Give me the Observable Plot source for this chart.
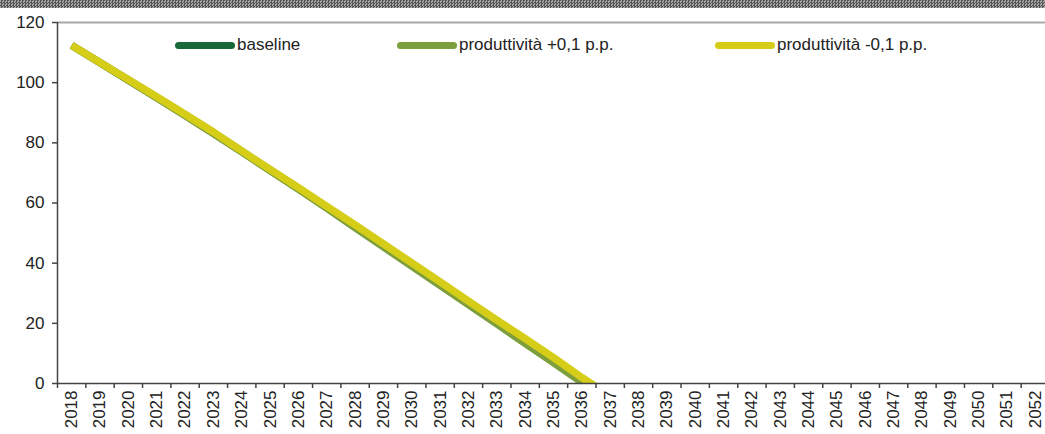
<!DOCTYPE html>
<html>
<head>
<meta charset="utf-8">
<script src="https://cdn.jsdelivr.net/npm/d3@7"></script>
<script src="https://cdn.jsdelivr.net/npm/@observablehq/plot@0.6"></script>
<style>
  html, body { margin: 0; padding: 0; background: #fff; overflow: hidden; }
  #wrap { position: relative; width: 1045px; height: 434px; font-family: "Liberation Sans", Arial, sans-serif; }
  #hatch { position: absolute; left: 0; top: 0; width: 1045px; height: 8px;
    background: repeating-conic-gradient(#555 0 25%, #a6a6a6 0 50%) 0 0 / 3px 3px; z-index: 2; }
  #legend { position: absolute; left: 0; top: 35px; width: 1045px; height: 22px; z-index: 3; }
  .item { position: absolute; top: 0; display: flex; align-items: center; font-size: 17px; color: #222; white-space: nowrap; }
  .sw { width: 60px; height: 7px; border-radius: 4px; margin-right: 2px; }
  svg { display: block; }
</style>
</head>
<body>
<div id="wrap">
  <div id="hatch"></div>
  <div id="legend"></div>
</div>
<script>
// ---- data ----
const years = [2018,2019,2020,2021,2022,2023,2024,2025,2026,2027,2028,2029,2030,2031,2032,2033,2034,2035,2036,2037,2038,2039,2040,2041,2042,2043,2044,2045,2046,2047,2048,2049,2050,2051,2052];
const lineYears = [2018,2019,2020,2021,2022,2023,2024,2025,2026,2027,2028,2029,2030,2031,2032,2033,2034,2035,2036,2037];
const baseline = [112.4,106.65,100.9,95.1,89.3,83.35,77.15,71.0,64.85,58.6,52.25,45.9,39.55,33.2,26.8,20.45,14.1,7.75,1.2,-5.1];
const prodPlus = [112.4,106.6,100.8,95.0,89.1,83.1,77.0,70.8,64.6,58.3,51.8,45.4,39.0,32.6,26.2,19.8,13.3,6.9,0.4,-6.0];
const prodMinus = [112.4,106.7,101.0,95.3,89.5,83.6,77.3,71.2,65.1,58.9,52.7,46.4,40.1,33.8,27.4,21.1,14.9,8.6,2.0,-4.2];
const seriesNames = ["baseline", "produttività +0,1 p.p.", "produttività -0,1 p.p."];
const seriesColors = ["#17693a", "#7d9e3c", "#d5cd17"];
const yTicks = [0,20,40,60,80,100,120];

const seriesValues = [baseline, prodPlus, prodMinus];
const tables = seriesValues.map((vals, s) => lineYears.map((yr, i) => ({year: yr, value: vals[i], series: seriesNames[s]})));
const boundaries = [...years.map(y => y - 0.5), years[years.length - 1] + 0.5];

const chart = Plot.plot({
  width: 1045,
  height: 434,
  marginLeft: 57,
  marginRight: -4,
  marginTop: 22,
  marginBottom: 51,
  style: {fontFamily: "Liberation Sans, Arial, sans-serif", color: "#222", background: "transparent"},
  x: {domain: [boundaries[0], boundaries[boundaries.length - 1]], axis: null, label: null},
  y: {domain: [0, 120], axis: null, label: null},
  marks: [
    Plot.ruleY([120], {stroke: "#a8a8a8", strokeWidth: 2}),
    ...tables.map((t, s) => Plot.line(t, {x: "year", y: "value", stroke: seriesColors[s], strokeWidth: 7.5, strokeLinejoin: "round", strokeLinecap: "butt", clip: true})),
    Plot.ruleY([0], {stroke: "#444", strokeWidth: 1.5}),
    Plot.ruleX([boundaries[0]], {stroke: "#444", strokeWidth: 1.5}),
    Plot.axisY({ticks: yTicks, tickSize: 5, tickPadding: 8, fontSize: 17, tickFormat: d => String(d), stroke: "#444", strokeWidth: 1.5, label: null}),
    Plot.axisX({ticks: boundaries, tickSize: 5, tickFormat: () => "", stroke: "#444", strokeWidth: 1.5, label: null}),
    Plot.axisX({ticks: years, tickSize: 0, tickPadding: 7, tickRotate: -90, fontSize: 17, tickFormat: d => String(d), label: null})
  ]
});
document.getElementById("wrap").appendChild(chart);

// legend (HTML, inside the plot area)
const legendLefts = [175, 397, 715];
const legend = document.getElementById("legend");
seriesNames.forEach((name, i) => {
  const it = document.createElement("div");
  it.className = "item";
  it.style.left = legendLefts[i] + "px";
  const sw = document.createElement("span");
  sw.className = "sw";
  sw.style.background = seriesColors[i];
  const tx = document.createElement("span");
  tx.textContent = name;
  it.appendChild(sw);
  it.appendChild(tx);
  legend.appendChild(it);
});
</script>
</body>
</html>
